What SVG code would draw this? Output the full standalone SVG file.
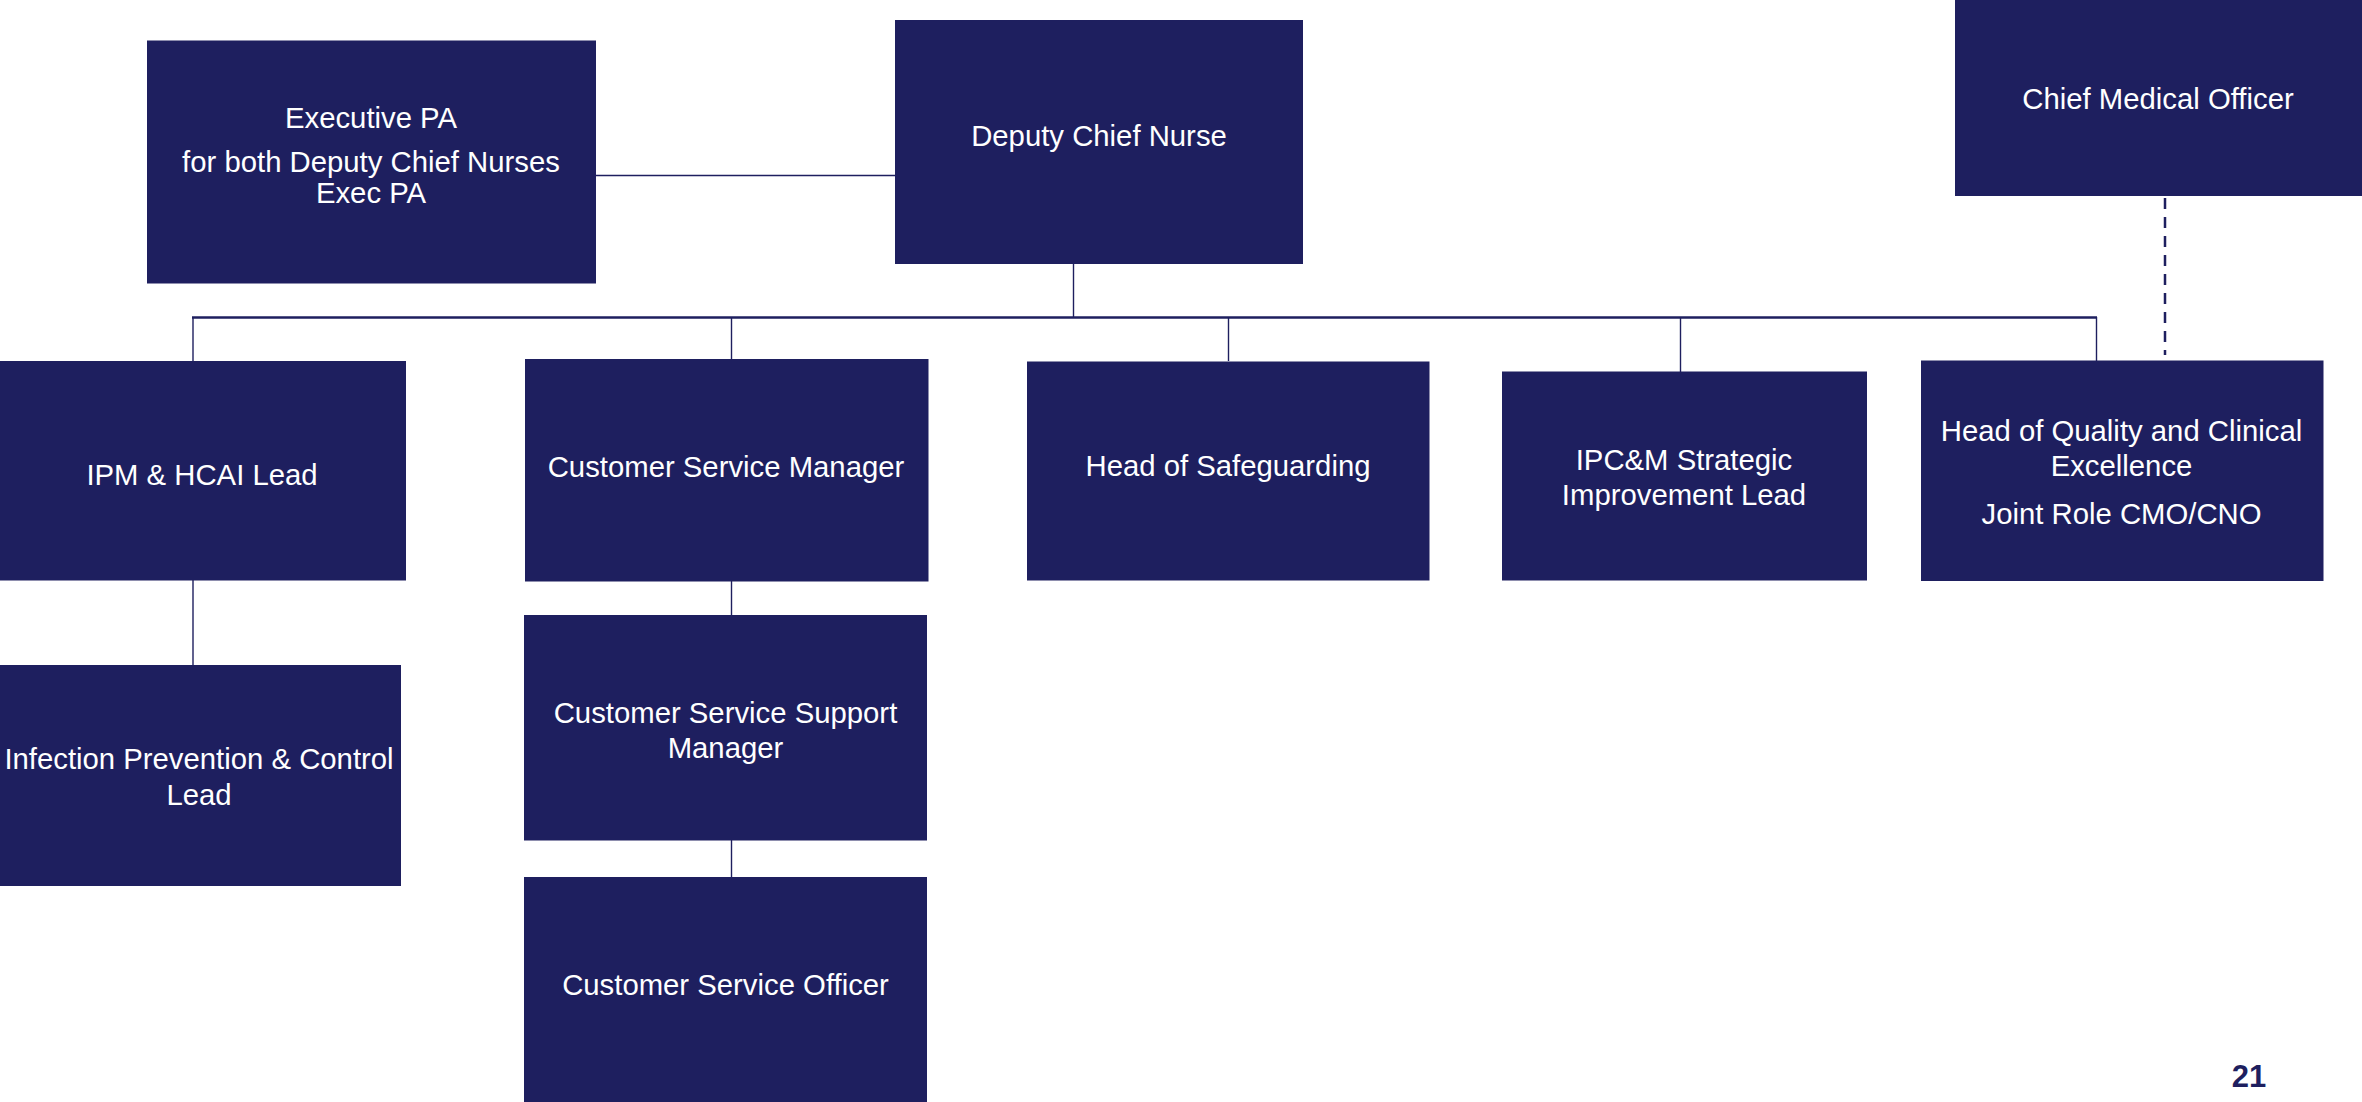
<svg xmlns="http://www.w3.org/2000/svg" width="2362" height="1102" viewBox="0 0 2362 1102">
<style>
.box{fill:#1E1F5F}
.t{fill:#FFFFFF;font-family:"Liberation Sans",Arial,sans-serif;font-size:29.3px;text-anchor:middle}
.ln{stroke:#1E1F5F;stroke-width:1.4;fill:none}
.bus{stroke:#1E1F5F;stroke-width:2.5;fill:none}
.dash{stroke:#1E1F5F;stroke-width:2.5;fill:none;stroke-dasharray:11 8}
.pg{fill:#1E1F5F;font-family:"Liberation Sans",Arial,sans-serif;font-size:31px;font-weight:bold;text-anchor:middle}
</style>
<rect width="2362" height="1102" fill="#FFFFFF"/>
<g id="connectors">
<line class="ln" x1="596" y1="175.5" x2="895" y2="175.5"/>
<line class="ln" x1="1073.5" y1="264" x2="1073.5" y2="317"/>
<line class="bus" x1="192" y1="317.5" x2="2097" y2="317.5"/>
<line class="ln" x1="193" y1="317" x2="193" y2="361"/>
<line class="ln" x1="731.5" y1="317" x2="731.5" y2="359"/>
<line class="ln" x1="1228.5" y1="317" x2="1228.5" y2="361"/>
<line class="ln" x1="1680.5" y1="317" x2="1680.5" y2="372"/>
<line class="ln" x1="2096.5" y1="317" x2="2096.5" y2="361"/>
<line class="dash" x1="2165" y1="198" x2="2165" y2="355"/>
<line class="ln" x1="193" y1="580" x2="193" y2="665"/>
<line class="ln" x1="731.5" y1="581" x2="731.5" y2="615"/>
<line class="ln" x1="731.5" y1="840" x2="731.5" y2="877"/>
</g>
<g id="exec-pa">
<rect class="box" x="147" y="40.5" width="449" height="243"/>
<text class="t" x="371" y="127.5">Executive PA</text>
<text class="t" x="371" y="171.5">for both Deputy Chief Nurses</text>
<text class="t" x="371" y="202.5">Exec PA</text>
</g>
<g id="deputy-chief-nurse">
<rect class="box" x="895" y="20" width="408" height="244"/>
<text class="t" x="1099" y="145.5">Deputy Chief Nurse</text>
</g>
<g id="chief-medical-officer">
<rect class="box" x="1955" y="0" width="407" height="196"/>
<text class="t" x="2158" y="108.5">Chief Medical Officer</text>
</g>
<g id="ipm-hcai-lead">
<rect class="box" x="0" y="361" width="406" height="219.5"/>
<text class="t" x="202" y="484.5">IPM &amp; HCAI Lead</text>
</g>
<g id="customer-service-manager">
<rect class="box" x="525" y="359" width="403.5" height="222.5"/>
<text class="t" x="726" y="476.5">Customer Service Manager</text>
</g>
<g id="head-of-safeguarding">
<rect class="box" x="1027" y="361.5" width="402.5" height="219"/>
<text class="t" x="1228" y="475.5">Head of Safeguarding</text>
</g>
<g id="ipcm-strategic-improvement-lead">
<rect class="box" x="1502" y="371.5" width="365" height="209"/>
<text class="t" x="1684" y="469.5">IPC&amp;M Strategic</text>
<text class="t" x="1684" y="504.5">Improvement Lead</text>
</g>
<g id="head-of-quality">
<rect class="box" x="1921" y="360.5" width="402.5" height="220.5"/>
<text class="t" x="2121.5" y="440.5">Head of Quality and Clinical</text>
<text class="t" x="2121.5" y="475.5">Excellence</text>
<text class="t" x="2121.5" y="523.5">Joint Role CMO/CNO</text>
</g>
<g id="infection-prevention-control-lead">
<rect class="box" x="0" y="665" width="401" height="221"/>
<text class="t" x="199" y="768.5">Infection Prevention &amp; Control</text>
<text class="t" x="199" y="804.5">Lead</text>
</g>
<g id="customer-service-support-manager">
<rect class="box" x="524" y="615" width="403" height="225.5"/>
<text class="t" x="725.5" y="722.5">Customer Service Support</text>
<text class="t" x="725.5" y="757.5">Manager</text>
</g>
<g id="customer-service-officer">
<rect class="box" x="524" y="877" width="403" height="225"/>
<text class="t" x="725.5" y="994.5">Customer Service Officer</text>
</g>
<text class="pg" x="2249" y="1087">21</text>
</svg>
